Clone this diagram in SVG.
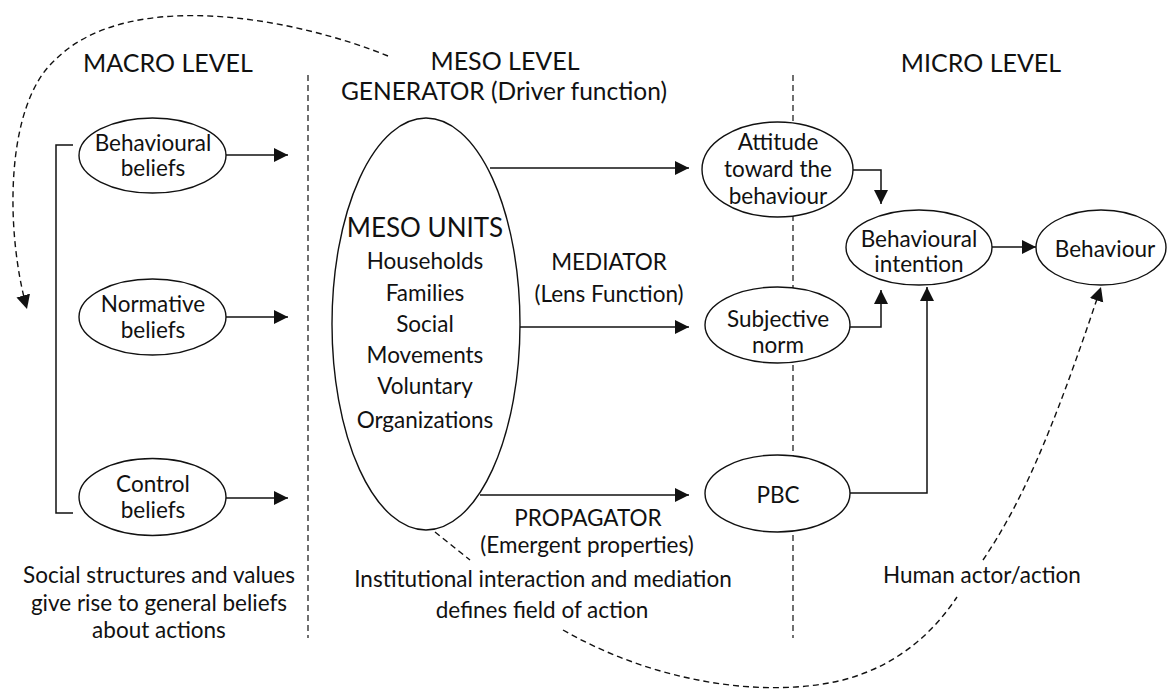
<svg xmlns="http://www.w3.org/2000/svg" width="1173" height="690" viewBox="0 0 1173 690">
<style>
text{font-family:Lato,"Liberation Sans",sans-serif;fill:#111;text-anchor:middle}
.t{font-size:25px}
.b{font-size:22.5px}
.mu{font-size:26px}
.node ellipse{fill:#fff;stroke:#111;stroke-width:1.4}
.ln{fill:none;stroke:#111;stroke-width:1.5}
.dv{fill:none;stroke:#111;stroke-width:1.2;stroke-dasharray:6 4}
.dc{fill:none;stroke:#111;stroke-width:1.4;stroke-dasharray:6 4}
</style>
<defs>
<marker id="ah" markerUnits="userSpaceOnUse" markerWidth="16" markerHeight="15" refX="14" refY="7" orient="auto">
<path d="M0,0 L14,7 L0,14 z" fill="#111"/>
</marker>
</defs>
<rect width="1173" height="690" fill="#fff"/>
<g id="labels">
<text class="t" x="168" y="72">MACRO LEVEL</text>
<text class="t" x="505" y="70">MESO LEVEL</text>
<text class="t" x="504" y="100" style="font-size:24.5px">GENERATOR (Driver function)</text>
<text class="t" x="981" y="72">MICRO LEVEL</text>
<text class="b" x="609" y="270">MEDIATOR</text>
<text class="b" x="609" y="302">(Lens Function)</text>
<text class="b" x="588" y="526">PROPAGATOR</text>
<text class="b" x="587" y="553">(Emergent properties)</text>
<text class="b" x="543" y="587">Institutional interaction and mediation</text>
<text class="b" x="542" y="618">defines field of action</text>
<text class="b" x="159" y="583">Social structures and values</text>
<text class="b" x="159" y="611">give rise to general beliefs</text>
<text class="b" x="159" y="638">about actions</text>
<text class="b" x="982" y="583">Human actor/action</text>
</g>
<g id="dividers">
<line class="dv" x1="308" y1="75" x2="308" y2="638"/>
<line class="dv" x1="793" y1="75" x2="793" y2="638"/>
</g>
<g id="connectors">
<path class="ln" d="M73 145 H56 V513 H73"/>
<line class="ln" x1="226" y1="155" x2="288" y2="155" marker-end="url(#ah)"/>
<line class="ln" x1="226" y1="317" x2="288" y2="317" marker-end="url(#ah)"/>
<line class="ln" x1="226" y1="498" x2="288" y2="498" marker-end="url(#ah)"/>
<line class="ln" x1="490" y1="168" x2="689" y2="168" marker-end="url(#ah)"/>
<line class="ln" x1="520" y1="327" x2="689" y2="327" marker-end="url(#ah)"/>
<line class="ln" x1="480" y1="495" x2="689" y2="495" marker-end="url(#ah)"/>
<path class="ln" d="M853 170 H881 V204" marker-end="url(#ah)"/>
<path class="ln" d="M850 327 H881 V290" marker-end="url(#ah)"/>
<path class="ln" d="M850 493 H927 V287" marker-end="url(#ah)"/>
<line class="ln" x1="992" y1="247" x2="1036" y2="247" marker-end="url(#ah)"/>
<path class="dc" d="M388 56 C300 20, 130 -15, 55 60 C5 105, 5 230, 27 309" marker-end="url(#ah)"/>
<path class="dc" d="M435 532 L470 560 M563 630 C650 680, 760 700, 843 680 C900 665, 935 630, 957 597 M983 560 C1020 505, 1050 440, 1101 287" marker-end="url(#ah)"/>
</g>
<g id="n-behavioural-beliefs" class="node">
<ellipse cx="152.5" cy="155.5" rx="73.5" ry="37.5"/>
<text class="b" x="153" y="151">Behavioural</text>
<text class="b" x="153" y="176">beliefs</text>
</g>
<g id="n-normative-beliefs" class="node">
<ellipse cx="152.5" cy="317" rx="73.5" ry="38"/>
<text class="b" x="153" y="312">Normative</text>
<text class="b" x="153" y="338">beliefs</text>
</g>
<g id="n-control-beliefs" class="node">
<ellipse cx="152.5" cy="497" rx="73.5" ry="38.5"/>
<text class="b" x="153" y="492">Control</text>
<text class="b" x="153" y="518">beliefs</text>
</g>
<g id="n-meso-units" class="node">
<ellipse cx="426" cy="324" rx="94" ry="206"/>
<text class="mu" x="425" y="237">MESO UNITS</text>
<text class="b" x="425" y="269">Households</text>
<text class="b" x="425" y="301">Families</text>
<text class="b" x="425" y="332">Social</text>
<text class="b" x="425" y="363">Movements</text>
<text class="b" x="425" y="394">Voluntary</text>
<text class="b" x="425" y="428">Organizations</text>
</g>
<g id="n-attitude" class="node">
<ellipse cx="777.5" cy="169.5" rx="75.5" ry="47.5"/>
<text class="b" x="778" y="150">Attitude</text>
<text class="b" x="778" y="177">toward the</text>
<text class="b" x="778" y="204">behaviour</text>
</g>
<g id="n-subjective-norm" class="node">
<ellipse cx="777.5" cy="325" rx="72.5" ry="38"/>
<text class="b" x="778" y="327">Subjective</text>
<text class="b" x="778" y="353">norm</text>
</g>
<g id="n-pbc" class="node">
<ellipse cx="777.5" cy="493.5" rx="72.5" ry="38.5"/>
<text class="b" x="778" y="503">PBC</text>
</g>
<g id="n-behavioural-intention" class="node">
<ellipse cx="919" cy="247.5" rx="73" ry="37.5"/>
<text class="b" x="919" y="247">Behavioural</text>
<text class="b" x="919" y="272">intention</text>
</g>
<g id="n-behaviour" class="node">
<ellipse cx="1101" cy="247.5" rx="65" ry="37.5"/>
<text class="b" x="1105" y="257">Behaviour</text>
</g>
</svg>
